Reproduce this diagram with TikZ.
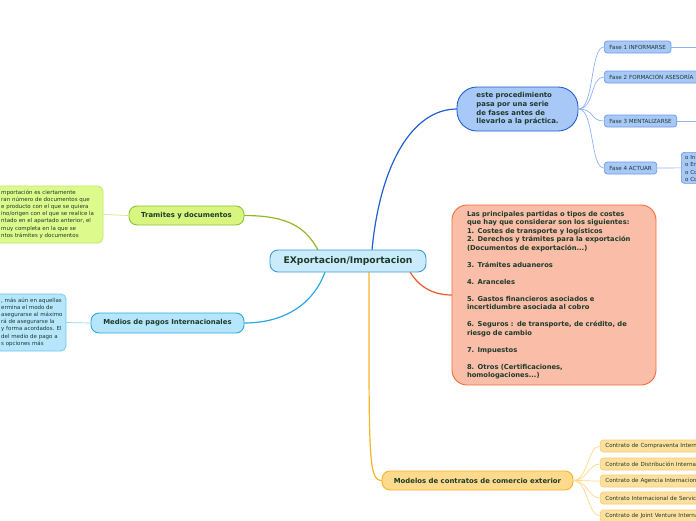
\documentclass[tikz,border=0pt]{standalone}
\usepackage{fontspec}
\setmainfont{DejaVu Sans}
\definecolor{txt}{HTML}{1E3A2A}
\definecolor{cenF}{HTML}{C9EBFB}\definecolor{cenD}{HTML}{3B9BD8}
\definecolor{estF}{HTML}{A8C8F8}\definecolor{estD}{HTML}{1F5FD0}
\definecolor{fasD}{HTML}{6A9AE8}\definecolor{fasL}{HTML}{8DB2F2}
\definecolor{redF}{HTML}{F9BDA8}\definecolor{redD}{HTML}{F26B3A}\definecolor{redL}{HTML}{F0582A}
\definecolor{traF}{HTML}{D7F57F}\definecolor{traD}{HTML}{8CC43A}\definecolor{traL}{HTML}{92B826}
\definecolor{grnF}{HTML}{DDFA8C}\definecolor{grnD}{HTML}{BEE86A}\definecolor{grnL}{HTML}{C8E890}
\definecolor{medF}{HTML}{B5E6FB}\definecolor{medD}{HTML}{2BA6E3}\definecolor{medL}{HTML}{2AA7E5}
\definecolor{bluD}{HTML}{6CC6EE}\definecolor{bluL}{HTML}{90D4F2}
\definecolor{modF}{HTML}{FDDA8C}\definecolor{modD}{HTML}{F5B225}\definecolor{modL}{HTML}{F8B425}
\definecolor{conF}{HTML}{FDE09E}\definecolor{conD}{HTML}{F9CC6A}\definecolor{conL}{HTML}{FDD88A}
\tikzset{
  mainbox/.style={draw, line width=0.9pt, rounded corners=8pt, inner sep=0pt, text=txt,
     font=\fontsize{6.9}{8.6}\selectfont\bfseries},
  smallbox/.style={draw, line width=0.7pt, rounded corners=3pt, inner xsep=5pt, inner ysep=0pt,
     minimum height=12pt, anchor=west, text=txt, font=\fontsize{5.6}{6.8}\selectfont, align=left},
  leaftext/.style={anchor=west, inner sep=0pt, text=txt, align=left, font=\fontsize{5.5}{7.2}\selectfont},
  branch/.style={line width=1.2pt},
  twig/.style={line width=0.7pt}
}
\begin{document}
\begin{tikzpicture}[x=1pt,y=-1pt]
\useasboundingbox (0,0) rectangle (696,520);
\clip (0,0) rectangle (696,520);

% connectors (drawn first)
\draw[branch, estD] ([xshift=24pt]348,250) .. controls +(8,-85) and +(-45,0) .. (457,109);
\draw[branch, traL] ([xshift=-30pt]348,250) .. controls +(-12,-22) and +(45,0) .. (244,215.5);
\draw[branch, medL] ([xshift=-23pt]348,272) .. controls +(-10,28) and +(45,0) .. (244,323);
\draw[branch, redL] ([xshift=62pt]348,272) .. controls +(10,16) and +(-18,0) .. (452,295);
\draw[branch, modL] ([xshift=21pt]348,272) .. controls +(0,185) and +(-14,0) .. (382,480.5);

% central
\node[mainbox, fill=cenF, draw=cenD, minimum width=156pt, minimum height=22pt,
      font=\fontsize{9.2}{11}\selectfont\bfseries] (cen) at (348,261) {EXportacion/Importacion};

% este procedimiento
\node[mainbox, fill=estF, draw=estD, rounded corners=20pt, minimum width=121pt, minimum height=44pt,
      align=left, font=\fontsize{6.9}{8.7}\selectfont\bfseries] (est) at (517.5,109)
  {este procedimiento\\pasa por una serie\\de fases antes de\\llevarlo a la práctica.};

% fases
\node[smallbox, fill=estF, draw=fasD] (f1) at (604,47) {Fase 1 INFORMARSE};
\node[smallbox, fill=estF, draw=fasD, text width=96pt] (f2) at (604,77) {Fase 2 FORMACIÓN ASESORÍA};
\node[smallbox, fill=estF, draw=fasD] (f3) at (604,121) {Fase 3 MENTALIZARSE};
\node[smallbox, fill=estF, draw=fasD] (f4) at (604,168) {Fase 4 ACTUAR};
\node[draw=fasD, fill=estF, line width=0.7pt, rounded corners=3pt, anchor=north west,
      minimum width=40pt, minimum height=31pt, inner sep=0pt] (f4c) at (681,152) {};
\node[leaftext, anchor=north west, font=\fontsize{5.5}{7.4}\selectfont] (f4t) at (685,155)
  {o In\\o En\\o Co\\o Co};
\coordinate (f1r) at (697,47);
\coordinate (f3r) at (697,121);
\draw[twig, fasL] (f1.east) -- (f1r);
\draw[twig, fasL] (f3.east) -- (f3r);
\draw[twig, fasL] (f4.east) -- (f4c.west);
\draw[twig, fasL] (696,39) -- (696,56);
\foreach \f in {f1,f2,f3,f4}
  \draw[twig, fasL] (est.east) .. controls +(16,0) and +(-14,0) .. (\f.west);

% red box
\node[mainbox, fill=redF, draw=redD, rounded corners=15pt, minimum width=204pt, minimum height=180pt,
      text width=174pt, align=left, font=\fontsize{6.75}{8.5}\selectfont\bfseries] (red) at (554,295)
  {Las principales partidas o tipos de costes\\
   que hay que considerar son los siguientes:\\
   1. Costes de transporte y logísticos\\
   2. Derechos y trámites para la exportación\\
   (Documentos de exportación...)\\[8.5pt]
   3. Trámites aduaneros\\[8.5pt]
   4. Aranceles\\[8.5pt]
   5. Gastos financieros asociados e\\
   incertidumbre asociada al cobro\\[8.5pt]
   6. Seguros : de transporte, de crédito, de\\
   riesgo de cambio\\[8.5pt]
   7. Impuestos\\[8.5pt]
   8. Otros (Certificaciones,\\
   homologaciones...)};

% tramites
\node[mainbox, fill=traF, draw=traD, minimum width=115pt, minimum height=19pt] (tra) at (186.5,215.5)
  {Tramites y documentos};
\node[draw=grnD, fill=grnF, line width=0.7pt, rounded corners=5pt, minimum width=143pt,
      minimum height=57pt, inner sep=0pt] (grn) at (31.5,214.5) {};
\node[leaftext] (grnt) at (1,214)
  {mportación es ciertamente\\ran número de documentos que\\e producto con el que se quiera\\ino/origen con el que se realice la\\ntado en el apartado anterior, el\\muy completa en la que se\\ntos trámites y documentos};
\draw[twig, grnL] (tra.west) -- (grn.east);

% medios
\node[mainbox, fill=medF, draw=medD, minimum width=153pt, minimum height=20pt] (med) at (167.5,323)
  {Medios de pagos Internacionales};
\node[draw=bluD, fill=medF, line width=0.7pt, rounded corners=5pt, minimum width=106pt,
      minimum height=57pt, inner sep=0pt] (blu) at (13,322.5) {};
\node[leaftext] (blut) at (1,322)
  {, más aún en aquellas\\ermina el modo de\\asegurarse al máximo\\rá de asegurarse la\\y forma acordados. El\\ del medio de pago a\\s opciones más};
\draw[twig, bluL] (med.west) -- (blu.east);

% modelos
\node[mainbox, fill=modF, draw=modD, minimum width=191pt, minimum height=19pt] (mod) at (477.5,480.5)
  {Modelos de contratos de comercio exterior};
\node[smallbox, fill=conF, draw=conD, text width=100pt] (c1) at (600,446) {Contrato de Compraventa Interna};
\node[smallbox, fill=conF, draw=conD, text width=100pt] (c2) at (600,464) {Contrato de Distribución Internac};
\node[smallbox, fill=conF, draw=conD, text width=100pt] (c3) at (600,481) {Contrato de Agencia Internaciona};
\node[smallbox, fill=conF, draw=conD, text width=100pt] (c4) at (600,498) {Contrato Internacional de Servici};
\node[smallbox, fill=conF, draw=conD, text width=100pt] (c5) at (600,516) {Contrato de Joint Venture Interna};
\foreach \c in {c1,c2,c3,c4,c5}
  \draw[twig, conL] (mod.east) .. controls +(14,0) and +(-12,0) .. (\c.west);
\end{tikzpicture}
\end{document}
